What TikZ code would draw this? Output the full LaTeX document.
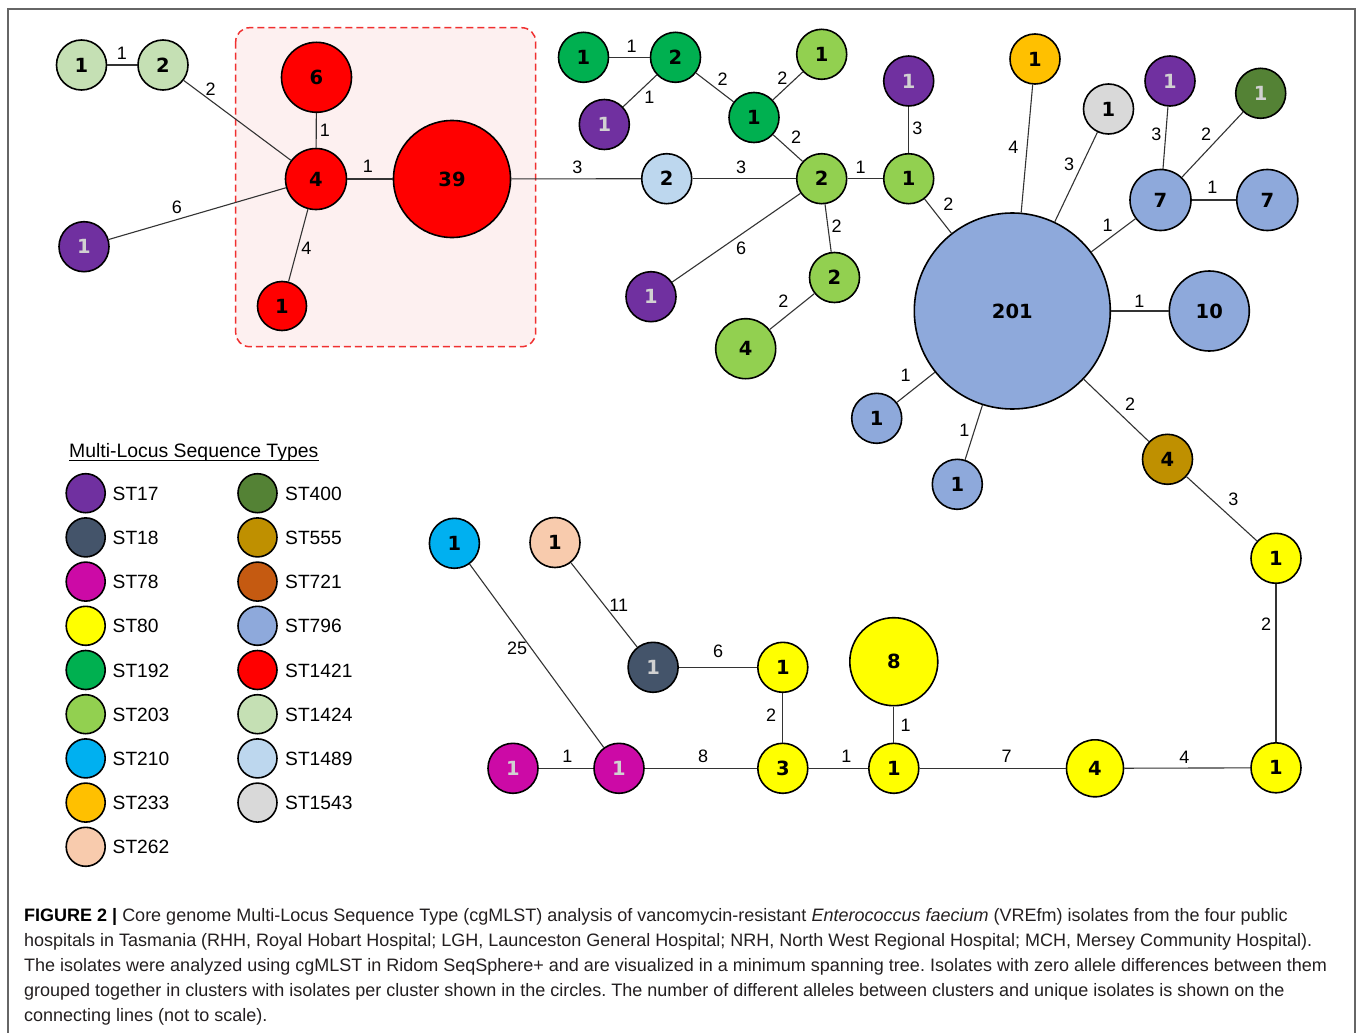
\documentclass[tikz,border=0pt]{standalone}
\usepackage{fontspec}
\setmainfont{Liberation Sans}
\newfontfamily\numfont{DejaVu Sans}
\frenchspacing
\definecolor{st17}{HTML}{7030A0}
\definecolor{st18}{HTML}{44546A}
\definecolor{st78}{HTML}{CC0AA6}
\definecolor{st80}{HTML}{FFFF00}
\definecolor{st192}{HTML}{00B050}
\definecolor{st203}{HTML}{92D050}
\definecolor{st210}{HTML}{00B0F0}
\definecolor{st233}{HTML}{FFC000}
\definecolor{st262}{HTML}{F8CBAD}
\definecolor{st400}{HTML}{548235}
\definecolor{st555}{HTML}{BF9000}
\definecolor{st721}{HTML}{C55A11}
\definecolor{st796}{HTML}{8EA9DB}
\definecolor{st1421}{HTML}{FF0000}
\definecolor{st1424}{HTML}{C5E0B4}
\definecolor{st1489}{HTML}{BDD7EE}
\definecolor{st1543}{HTML}{D9D9D9}
\definecolor{boxfill}{HTML}{FDF0F0}
\definecolor{boxline}{HTML}{F03030}
\definecolor{captxt}{HTML}{231F20}
\tikzset{
  nd/.style={circle, draw=black, line width=1.6pt, inner sep=0pt, minimum size=50pt,
    font=\numfont\bfseries\fontsize{19.5}{19.5}\selectfont},
  lt/.style={text=white!82!black},
  edge/.style={draw=black!80, line width=1.1pt},
  el/.style={inner sep=0pt, font=\fontsize{18}{18}\selectfont},
  lgc/.style={circle, draw=black, line width=1.6pt, inner sep=0pt, minimum size=39pt},
  lgt/.style={anchor=west, inner sep=0pt, font=\fontsize{19.2}{19.2}\selectfont},
  captext/.style={anchor=base west, inner sep=0pt, text=captxt, font=\fontsize{18}{18}\selectfont}
}
\begin{document}
\begin{tikzpicture}[x=1pt,y=-1pt]
\useasboundingbox (0,0) rectangle (1358,1033);
\fill[white] (0,0) rectangle (1358,1033);
% frame
\draw[black!60, line width=1.5pt] (8,1045) -- (8,9) -- (1355,9) -- (1355,1045);
% highlighted cluster box
\draw[boxline, fill=boxfill, dashed, dash pattern=on 7pt off 4pt, line width=1.5pt, rounded corners=14pt]
  (235.7,27.7) rectangle (535.7,346.7);

% ---------- nodes ----------
\node[nd, fill=st1424] (a1) at (81.5,65) {1};
\node[nd, fill=st1424] (a2) at (163,65) {2};
\node[nd, fill=st1421, minimum size=70pt] (r6) at (316.5,77.3) {6};
\node[nd, fill=st1421, minimum size=61pt] (r4) at (316,179) {4};
\node[nd, fill=st1421, minimum size=117pt] (r39) at (452,179) {39};
\node[nd, fill=st1421, minimum size=49pt] (r1) at (282,306) {1};
\node[nd, fill=st17, lt] (p1) at (84,246.7) {1};

\node[nd, fill=st192] (g1) at (583.5,57.3) {1};
\node[nd, fill=st192] (g2) at (675.5,57.3) {2};
\node[nd, fill=st17, lt] (p2) at (604.3,124.5) {1};
\node[nd, fill=st192] (g3) at (754,117.5) {1};
\node[nd, fill=st203] (l1) at (821.7,54.3) {1};
\node[nd, fill=st1489] (b1) at (666.7,178.7) {2};
\node[nd, fill=st203] (l2) at (821.7,178.7) {2};
\node[nd, fill=st203] (l3) at (908.7,178.7) {1};
\node[nd, fill=st17, lt] (p3) at (908.7,81) {1};
\node[nd, fill=st17, lt] (p4) at (651,296.7) {1};
\node[nd, fill=st203] (l4) at (834.5,277.5) {2};
\node[nd, fill=st203, minimum size=60pt] (l5) at (745.7,348.7) {4};

\node[nd, fill=st796, minimum size=196pt] (c) at (1012.3,311) {201};
\node[nd, fill=st233] (o) at (1035,59) {1};
\node[nd, fill=st1543] (gy) at (1108.5,109) {1};
\node[nd, fill=st796, minimum size=61pt] (b7a) at (1160.5,200) {7};
\node[nd, fill=st17, lt] (p5) at (1170,81) {1};
\node[nd, fill=st400, lt] (dg) at (1260.7,93.3) {1};
\node[nd, fill=st796, minimum size=61pt] (b7b) at (1267.3,200) {7};
\node[nd, fill=st796, minimum size=80pt] (b10) at (1209.3,311) {10};
\node[nd, fill=st796] (b1a) at (876.7,418.3) {1};
\node[nd, fill=st796] (b1b) at (957.3,484.3) {1};
\node[nd, fill=st555] (s) at (1167.5,459.3) {4};

\node[nd, fill=st80] (y1) at (1276,558.3) {1};
\node[nd, fill=st80] (y2) at (1276,767.8) {1};
\node[nd, fill=st80, minimum size=57pt] (y4) at (1095,768.3) {4};
\node[nd, fill=st80] (y5) at (893.8,768.3) {1};
\node[nd, fill=st80, minimum size=88pt] (y8) at (893.8,661.7) {8};
\node[nd, fill=st80] (y3) at (782.8,768.3) {3};
\node[nd, fill=st80] (y6) at (782.8,667.3) {1};
\node[nd, fill=st18, lt] (d18) at (653.1,667.3) {1};
\node[nd, fill=st262] (pe) at (555,542.5) {1};
\node[nd, fill=st210] (cy) at (454.4,543.3) {1};
\node[nd, fill=st78, lt] (m1) at (513,768.3) {1};
\node[nd, fill=st78, lt] (m2) at (619,768.3) {1};

% ---------- connectors ----------
\foreach \u/\v in {a1/a2, a2/r4, p1/r4, r6/r4, r4/r39, r4/r1, r39/b1, b1/l2,
  g1/g2, g2/p2, g2/g3, g3/l1, g3/l2, l2/l3, p3/l3, l2/p4, l2/l4, l4/l5, l3/c,
  o/c, gy/c, c/b7a, p5/b7a, dg/b7a, b7a/b7b, c/b10, c/b1a, c/b1b, c/s, s/y1,
  y1/y2, y4/y2, y5/y4, y8/y5, y3/y5, y6/y3, d18/y6, pe/d18, cy/m2, m1/m2, m2/y3}
  \draw[edge] (\u) -- (\v);

% ---------- connector labels ----------
\node[el] (e1) at (122,53.3) {1};
\node[el] (e2) at (210.7,89.3) {2};
\node[el] (e3) at (176.8,207.3) {6};
\node[el] (e4) at (325,130.7) {1};
\node[el] (e5) at (368,166.7) {1};
\node[el] (e6) at (306.4,248.3) {4};
\node[el] (e7) at (577.3,167.3) {3};
\node[el] (e8) at (741,167.3) {3};
\node[el] (e9) at (631.7,46.7) {1};
\node[el] (e10) at (649.3,97.3) {1};
\node[el] (e11) at (722.7,79) {2};
\node[el] (e12) at (782.3,78.3) {2};
\node[el] (e13) at (796,137.3) {2};
\node[el] (e14) at (860.7,167.3) {1};
\node[el] (e15) at (917.3,128.3) {3};
\node[el] (e16) at (741,248.3) {6};
\node[el] (e17) at (836.7,226) {2};
\node[el] (e18) at (783.3,301.7) {2};
\node[el] (e19) at (948.3,204) {2};
\node[el] (e20) at (1013.3,147.3) {4};
\node[el] (e21) at (1069,164.7) {3};
\node[el] (e22) at (1107.7,225) {1};
\node[el] (e23) at (1156.3,134.3) {3};
\node[el] (e24) at (1206,134.3) {2};
\node[el] (e25) at (1212.3,187.7) {1};
\node[el] (e26) at (1139.3,301.7) {1};
\node[el] (e27) at (905.7,375) {1};
\node[el] (e28) at (964.3,430) {1};
\node[el] (e29) at (1130,404) {2};
\node[el] (e30) at (1233.3,499) {3};
\node[el] (e31) at (1266,624) {2};
\node[el] (e32) at (1184.3,757.3) {4};
\node[el] (e33) at (1006.7,756.7) {7};
\node[el] (e34) at (905.5,725) {1};
\node[el] (e35) at (846.3,756.7) {1};
\node[el] (e36) at (771.2,715) {2};
\node[el] (e37) at (718.2,651.7) {6};
\node[el] (e38) at (618.7,605.3) {11};
\node[el] (e39) at (517.1,648.3) {25};
\node[el] (e40) at (567.4,756.7) {1};
\node[el] (e41) at (703,756.7) {8};

% ---------- legend ----------
\node[anchor=base west, inner sep=0pt, font=\fontsize{19.4}{19.4}\selectfont] (ttl) at (69,457.5) {Multi-Locus Sequence Types};
\draw[line width=1.2pt] ([yshift=-3pt]ttl.base west) -- ([yshift=-3pt]ttl.base east);
\foreach \c [count=\i from 0] in {17,18,78,80,192,203,210,233,262} {
  \node[lgc, fill=st\c] (lga\i) at (85.7,{493.2+44.2*\i}) {};
  \node[lgt] (lta\i) at (112.5,{493.7+44.2*\i}) {ST\c};
}
\foreach \c [count=\i from 0] in {400,555,721,796,1421,1424,1489,1543} {
  \node[lgc, fill=st\c] (lgb\i) at (257.5,{493.2+44.2*\i}) {};
  \node[lgt] (ltb\i) at (285,{493.7+44.2*\i}) {ST\c};
}

% ---------- caption ----------
\node[captext] (c1) at (24,921.5) {\textbf{\color{black}FIGURE 2 |} Core genome Multi-Locus Sequence Type (cgMLST) analysis of vancomycin-resistant \textit{Enterococcus faecium} (VREfm) isolates from the four public};
\node[captext] (c2) at (24,946.5) {hospitals in Tasmania (RHH, Royal Hobart Hospital; LGH, Launceston General Hospital; NRH, North West Regional Hospital; MCH, Mersey Community Hospital).};
\node[captext] (c3) at (24,971.5) {The isolates were analyzed using cgMLST in Ridom SeqSphere+ and are visualized in a minimum spanning tree. Isolates with zero allele differences between them};
\node[captext] (c4) at (24,996.5) {grouped together in clusters with isolates per cluster shown in the circles. The number of different alleles between clusters and unique isolates is shown on the};
\node[captext] (c5) at (24,1021.5) {connecting lines (not to scale).};
\end{tikzpicture}
\end{document}
